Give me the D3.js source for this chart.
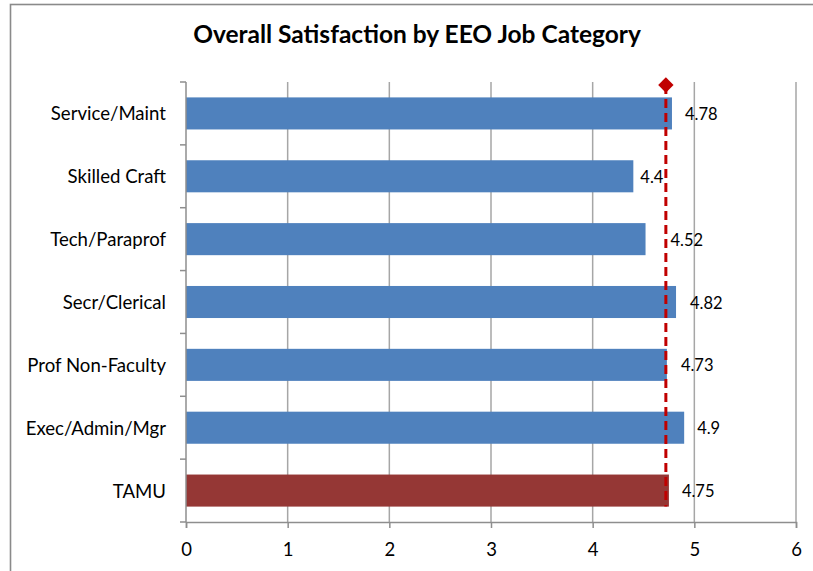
<!DOCTYPE html>
<html>
<head>
<meta charset="utf-8">
<script src="https://cdn.jsdelivr.net/npm/d3@7"></script>
<style>
  html, body { margin: 0; padding: 0; background: #fff; }
  svg { display: block; }
  text { font-family: Lato, "Open Sans", sans-serif; fill: #000; }
</style>
</head>
<body>
<svg id="chart" width="813" height="571"></svg>
<script>
// Mean overall satisfaction score per EEO job category
const categories = ["Service/Maint", "Skilled Craft", "Tech/Paraprof", "Secr/Clerical",
                    "Prof Non-Faculty", "Exec/Admin/Mgr", "TAMU"];
const scores = [4.78, 4.4, 4.52, 4.82, 4.73, 4.9, 4.75];
const referenceScore = 4.72;          // dashed reference marker
const xTicks = [0, 1, 2, 3, 4, 5, 6];
// horizontal nudge of each value label past its bar end (px)
const labelShift = [13, 7, 25, 14, 14, 13, 13];

const svg = d3.select("#chart");
const margin = { left: 186, right: 17, top: 82, bottom: 49 };
const W = 813, H = 571;

// chart frame
svg.append("rect")
  .attr("x", 10.5).attr("y", 4.5)
  .attr("width", W + 20).attr("height", H + 20)
  .attr("fill", "none").attr("stroke", "#8a8a8a").attr("stroke-width", 1.6);

const x = d3.scaleLinear().domain([0, 6]).range([margin.left, W - margin.right]);
const y = d3.scaleBand().domain(categories).range([margin.top, H - margin.bottom])
  .paddingInner(0.49).paddingOuter(0.245);

const axisColor = "#8e8e8e";

// vertical gridlines
svg.append("g").selectAll("line")
  .data(xTicks.filter(d => d > 0))
  .join("line")
  .attr("x1", d => x(d)).attr("x2", d => x(d))
  .attr("y1", margin.top).attr("y2", H - margin.bottom)
  .attr("stroke", "#a6a6a6").attr("stroke-width", 1.5);

// bars
svg.append("g").selectAll("rect")
  .data(categories)
  .join("rect")
  .attr("x", x(0))
  .attr("y", d => y(d))
  .attr("width", (d, i) => x(scores[i]) - x(0))
  .attr("height", y.bandwidth())
  .attr("fill", d => d === "TAMU" ? "#953735" : "#4f81bd");

// value labels
svg.append("g").selectAll("text")
  .data(categories)
  .join("text")
  .attr("x", (d, i) => x(scores[i]) + labelShift[i])
  .attr("y", d => y(d) + y.bandwidth() / 2 + 6.5)
  .attr("font-size", 16.5)
  .text((d, i) => scores[i]);

// bottom axis
const xAxis = svg.append("g")
  .attr("transform", `translate(0,${H - margin.bottom})`)
  .call(d3.axisBottom(x).tickValues(xTicks).tickSize(6).tickPadding(15).tickFormat(d3.format("d")));
xAxis.select(".domain").attr("stroke", axisColor).attr("stroke-width", 1.5);
xAxis.selectAll(".tick line").attr("stroke", axisColor).attr("stroke-width", 1.5);
xAxis.selectAll("text").attr("font-size", 18.5).attr("font-family", "Lato, sans-serif").attr("fill", "#000");

// left axis: line with ticks between categories
const step = y.step();
const boundaries = d3.range(categories.length + 1).map(i => y(categories[0]) - y.paddingInner() * step / 2 + i * step);
svg.append("line")
  .attr("x1", x(0)).attr("x2", x(0))
  .attr("y1", margin.top).attr("y2", H - margin.bottom)
  .attr("stroke", axisColor).attr("stroke-width", 1.5);
svg.append("g").selectAll("line")
  .data(boundaries)
  .join("line")
  .attr("x1", x(0) - 6).attr("x2", x(0))
  .attr("y1", d => d).attr("y2", d => d)
  .attr("stroke", axisColor).attr("stroke-width", 1.5);

// category labels
svg.append("g").selectAll("text")
  .data(categories)
  .join("text")
  .attr("x", x(0) - 20)
  .attr("y", d => y(d) + y.bandwidth() / 2 + 7)
  .attr("text-anchor", "end")
  .attr("font-size", 18.6)
  .text(d => d);

// dashed reference line with diamond cap
const refTop = margin.top + 3;
const refBottom = y("TAMU") + y.bandwidth();
svg.append("line")
  .attr("x1", x(referenceScore)).attr("x2", x(referenceScore))
  .attr("y1", refTop).attr("y2", refBottom)
  .attr("stroke", "#c00000").attr("stroke-width", 3)
  .attr("stroke-dasharray", "9,5");
svg.append("path")
  .attr("d", d3.symbol(d3.symbolDiamond2, 150)())
  .attr("transform", `translate(${x(referenceScore)},${refTop})`)
  .attr("fill", "#c00000");

// title
svg.append("text")
  .attr("x", 417).attr("y", 43)
  .attr("text-anchor", "middle")
  .attr("font-size", 24.5).attr("font-weight", "bold")
  .text("Overall Satisfaction by EEO Job Category");
</script>
</body>
</html>
